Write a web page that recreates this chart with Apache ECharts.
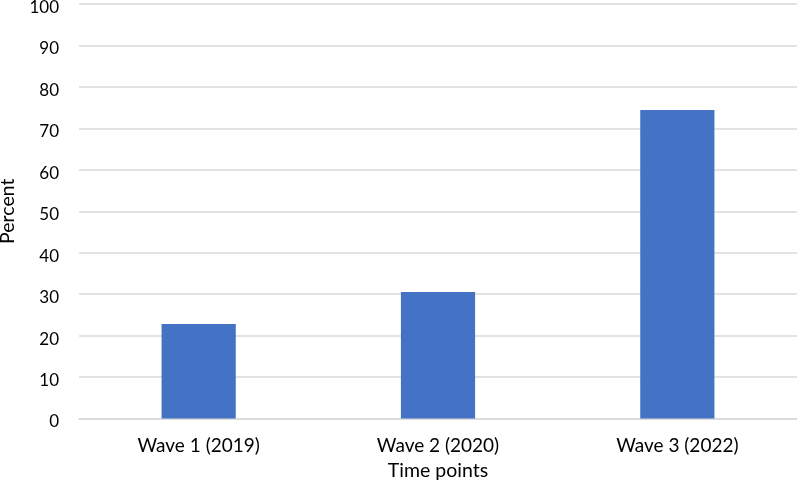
<!DOCTYPE html>
<html>
<head>
<meta charset="utf-8">
<script src="https://cdn.jsdelivr.net/npm/echarts@6/dist/echarts.min.js"></script>
<style>html,body{margin:0;padding:0;background:#fff;}#c{width:797px;height:483px;}</style>
</head>
<body>
<div id="c"></div>
<script>
const categories = ['Wave 1 (2019)', 'Wave 2 (2020)', 'Wave 3 (2022)'];
const percentValues = [22.8, 30.5, 74.4];
const yTicks = {min: 0, max: 100, interval: 10};

const chart = echarts.init(document.getElementById('c'));
const font = 'Lato, "Open Sans", sans-serif';
chart.setOption({
  animation: false,
  grid: {left: 79, right: 0, top: 4, bottom: 64.5, containLabel: false, outerBoundsMode: 'none'},
  xAxis: {
    type: 'category',
    data: categories,
    name: 'Time points',
    nameLocation: 'middle',
    nameGap: 42,
    nameTextStyle: {fontFamily: font, fontSize: 19.5, color: '#000'},
    axisLine: {lineStyle: {color: '#d9d9d9', width: 1.5}},
    axisTick: {show: false},
    axisLabel: {fontFamily: font, fontSize: 19, color: '#000', margin: 18}
  },
  yAxis: {
    type: 'value',
    min: yTicks.min, max: yTicks.max, interval: yTicks.interval,
    name: 'Percent',
    nameLocation: 'middle',
    nameGap: 61,
    nameTextStyle: {fontFamily: font, fontSize: 19.5, color: '#000'},
    axisLine: {show: false},
    axisTick: {show: false},
    splitLine: {lineStyle: {color: '#d9d9d9', width: 1.5}},
    axisLabel: {
      fontFamily: font, fontSize: 17, color: '#000', margin: 20,
      formatter: function (v) { return '{a|' + v + '}'; },
      rich: {a: {fontFamily: font, fontSize: 17, color: '#000', padding: [7, 0, 0, 0]}}
    }
  },
  series: [{
    type: 'bar',
    data: percentValues,
    barWidth: '31%',
    itemStyle: {color: '#4472C4'}
  }]
});
</script>
</body>
</html>
